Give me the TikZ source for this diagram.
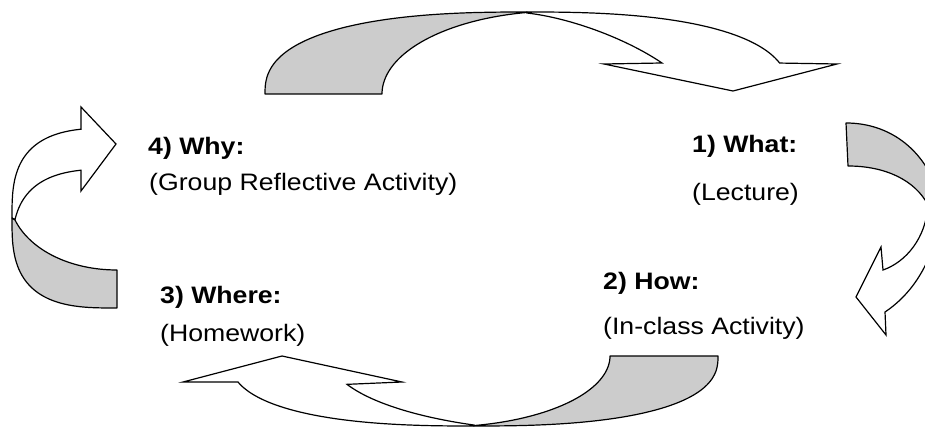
\documentclass[tikz,border=0pt]{standalone}
\usepackage{fontspec}
\setmainfont{Liberation Sans}
\usepackage{graphicx}
\definecolor{backgray}{RGB}{204,204,204}
\tikzset{
  back/.style={draw=black, fill=backgray, line width=1.2pt, line join=round},
  front/.style={draw=black, fill=white, line width=1.2pt, line join=miter},
  lab/.style={anchor=base west, inner sep=0pt, font=\fontsize{23.8}{28}\selectfont},
  declare function={spow(\a,\e)=pow(abs(\a)+0.00001,\e);}
}
\newcommand{\wide}[1]{\scalebox{1.12}[1]{#1}}
\begin{document}
\begin{tikzpicture}[x=1pt,y=-1pt]
\useasboundingbox (0,0) rectangle (925,427);
\clip (0,0) rectangle (925,427);

% ---- top arrow (4 -> 1)
\draw[front] plot[domain=90:17.2,samples=60] ({527+262*spow(cos(\x),0.8)},{94-82*spow(sin(\x),0.8)})
  -- (837,64) -- (733,91) -- (604,64) -- (662,63)
  .. controls (625,38) and (570,18) .. (527,13) -- cycle;
\draw[back] plot[domain=180:90,samples=80] ({527-262*spow(cos(\x),0.8)},{94-82*spow(sin(\x),0.8)})
  -- plot[domain=100.7:180,samples=50] ({560+178*cos(\x)},{94-83*sin(\x)}) -- cycle;

% ---- right arrow (1 -> 2)
\draw[front] (928,205) .. controls (926,238) and (906,262) .. (883,270)
  -- (881,247) -- (856,297) -- (886,335) -- (885,312)
  .. controls (915,292) and (938,255) .. (940,205) -- cycle;
\draw[back] (846,123) .. controls (890,123) and (922,150) .. (935,185)
  -- (928,205) .. controls (915,180) and (885,166) .. (848,166) -- cycle;

% ---- bottom arrow (2 -> 3)
\draw[front] plot[domain=163.2:90,samples=70] ({473.8-244.2*spow(cos(\x),0.8)},{356+70*spow(sin(\x),0.8)})
  -- plot[domain=114.7:158.1,samples=40] ({578+249*cos(\x)},{356+76*sin(\x)})
  -- (402,382) -- (282,356) -- (183,382) -- cycle;
\draw[back] plot[domain=90:0,samples=70] ({473.8+244.2*spow(cos(\x),0.8)},{356+70*spow(sin(\x),0.8)})
  -- (610,356) -- plot[domain=0:78.5,samples=40] ({440+170*cos(\x)},{356+71*sin(\x)}) -- cycle;

% ---- left arrow (3 -> 4)
\draw[front] plot[domain=101.6:180,samples=60] ({117-105*spow(cos(\x),0.6667)},{218-90*spow(sin(\x),0.6667)})
  -- plot[domain=163.1:101.6,samples=50] ({117-105*spow(cos(\x),0.6667)},{259-90*spow(sin(\x),0.6667)})
  -- (81,191) -- (116,144) -- (81,107) -- cycle;
\draw[back] plot[domain=180:270,samples=60] ({117-105*spow(cos(\x),0.6667)},{218+90*spow(sin(\x),0.6667)})
  -- (117,270) .. controls (70,270) and (30,250) .. (15,220) -- cycle;

% ---- labels
\node[lab] (why)  at (148,155) {\wide{\textbf{4) Why:}}};
\node[lab] (whyd) at (149,191) {\wide{(Group Reflective Activity)}};
\node[lab] (what) at (692,153) {\wide{\textbf{1) What:}}};
\node[lab] (whatd) at (692,201) {\wide{(Lecture)}};
\node[lab] (how)  at (603,289) {\wide{\textbf{2) How:}}};
\node[lab] (howd) at (603,334) {\wide{(In-class Activity)}};
\node[lab] (where) at (160,303) {\wide{\textbf{3) Where:}}};
\node[lab] (wherd) at (160,341) {\wide{(Homework)}};
\end{tikzpicture}
\end{document}
